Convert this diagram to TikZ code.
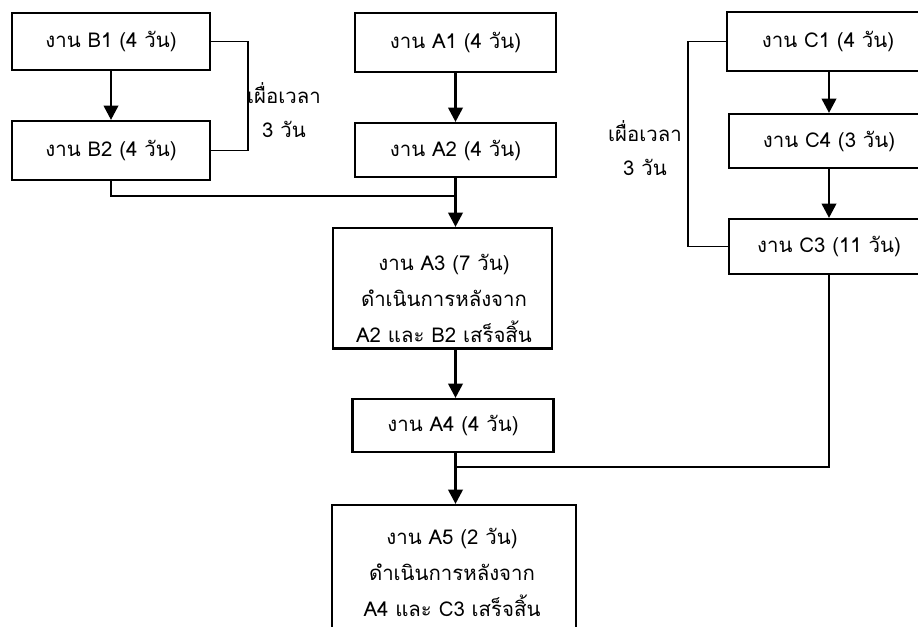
\documentclass[tikz,border=0pt]{standalone}
\usepackage{fontspec}
\setmainfont[Script=Thai]{Loma}
\usetikzlibrary{arrows.meta}
\tikzset{
  task/.style={draw,line width=1.5pt,fill=white,inner sep=0pt,
    minimum width=5.025cm,minimum height=1.4cm,
    font=\fontsize{14.5pt}{25.6pt}\selectfont},
  tasktext/.style={align=center,inner sep=0pt,font=\fontsize{14.5pt}{25.6pt}\selectfont},
  flow/.style={->,line width=2pt},
  link/.style={line width=1pt},
  slack/.style={align=center,inner sep=0pt,font=\fontsize{14.5pt}{24.5pt}\selectfont}
}
\begin{document}
\begin{tikzpicture}[x=0.025cm,y=-0.025cm,>={Triangle[width=0.36cm,length=0.36cm]}]
        \useasboundingbox (0,0) rectangle (918,626);
        \clip (0,0) rectangle (918,626);
        % column B
        \node[task,minimum width=4.95cm,minimum height=1.425cm] (b1) at (111,41.5) {งาน B1 (4 วัน)};
        \node[task,minimum width=4.95cm,minimum height=1.475cm] (b2) at (111,150.5) {งาน B2 (4 วัน)};
        \draw[flow](b1)--(b2);
        \draw[link](b1.east)--++(37,0)|-(b2.east);
        \node[slack] (bs) at (284,110) {เผื่อเวลา\\3 วัน};
        % column A
        \node[task,minimum height=1.475cm] (a1) at (455.5,42.5) {งาน A1 (4 วัน)};
        \node[task,minimum height=1.35cm] (a2) at (455.5,150) {งาน A2 (4 วัน)};
        \node[task,minimum width=5.475cm,minimum height=3cm] (a3) at (442.5,288) {};
        \node[tasktext] (a3t) at (444,298) {งาน A3 (7 วัน)\\ดำเนินการหลังจาก\\A2 และ B2 เสร็จสิ้น};
        \node[task,minimum height=1.325cm] (a4) at (453,425.5) {งาน A4 (4 วัน)};
        \node[task,minimum width=6.1cm,minimum height=3.875cm] (a5) at (454,582.5) {};
        \node[tasktext] (a5t) at (452,572) {งาน A5 (2 วัน)\\ดำเนินการหลังจาก\\A4 และ C3 เสร็จสิ้น};
        \draw[line width=1.5pt](a3.south west)--(a3.south east);
        \coordinate (jb) at (455.5,196);
        \coordinate (jc) at (455.5,467);
        \draw[flow](a1)--(a2);
        \draw[link](b2.south)|-(jb);
        \draw[flow](a2.south)--(a2.south|-a3.north);
        \draw[flow](a2.south|-a3.south)--(a2.south|-a4.north);
        \draw[flow](a4.south-|jc)--(jc|-a5.north);
        % column C
        \node[task,minimum width=5.05cm,minimum height=1.475cm] (c1) at (828,41.5) {งาน C1 (4 วัน)};
        \node[task,minimum width=5cm,minimum height=1.35cm] (c4) at (829,141) {งาน C4 (3 วัน)};
        \node[task,minimum width=5cm,minimum height=1.375cm] (c3) at (829,246.5) {งาน C3 (11 วัน)};
        \draw[flow](c4.north|-c1.south)--(c4.north);
        \draw[flow](c4)--(c3);
        \draw[link](c1.west)--++(-38,0)|-(c3.west);
        \node[slack] (cs) at (645,148) {เผื่อเวลา\\3 วัน};
        \draw[link](c3.south)|-(jc);
    \end{tikzpicture}
\end{document}
